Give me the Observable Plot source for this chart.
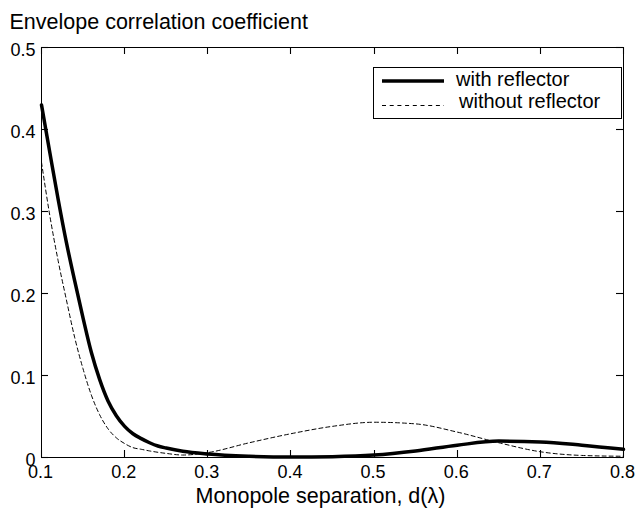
<!DOCTYPE html>
<html>
<head>
<meta charset="utf-8">
<script src="https://cdn.jsdelivr.net/npm/d3@7"></script>
<script src="https://cdn.jsdelivr.net/npm/@observablehq/plot@0.6"></script>
<style>
  html, body { margin: 0; padding: 0; background: #fff; }
  #chart svg { display: block; }
</style>
</head>
<body>
<div id="chart"></div>
<script>
// Monopole separation d (wavelengths) and envelope correlation coefficient
const sepWith = [0.10,0.11,0.12,0.13,0.14,0.15,0.16,0.17,0.18,0.19,0.20,0.21,0.22,0.23,0.24,0.25,0.27,0.30,0.35,0.40,0.45,0.50,0.55,0.60,0.65,0.70,0.75,0.80];
const rhoWith = [0.430,0.372,0.315,0.262,0.215,0.170,0.128,0.095,0.069,0.051,0.038,0.029,0.023,0.018,0.014,0.0115,0.0075,0.0042,0.0015,0.0005,0.001,0.003,0.008,0.015,0.020,0.019,0.015,0.010];
const sepWithout = [0.10,0.11,0.12,0.13,0.14,0.15,0.16,0.17,0.18,0.19,0.20,0.21,0.22,0.23,0.25,0.27,0.30,0.35,0.40,0.45,0.50,0.55,0.60,0.65,0.70,0.75,0.80];
const rhoWithout = [0.360,0.295,0.240,0.192,0.146,0.108,0.076,0.052,0.035,0.024,0.017,0.012,0.010,0.008,0.005,0.003,0.006,0.018,0.029,0.038,0.043,0.041,0.031,0.018,0.007,0.0025,0.0015];

const xTicks = [0.1,0.2,0.3,0.4,0.5,0.6,0.7,0.8];
const yTicks = [0,0.1,0.2,0.3,0.4,0.5];
const seriesNames = ["with reflector", "without reflector"];
const titleText = "Envelope correlation coefficient";
const xLabelText = "Monopole separation, d(\u03bb)";

const withData = sepWith.map((d, i) => ({d, r: rhoWith[i]}));
const withoutData = sepWithout.map((d, i) => ({d, r: rhoWithout[i]}));

const FONT = "'Liberation Sans', Arial, Helvetica, sans-serif";
const xDomain = [0.1, 0.8], yDomain = [0, 0.5];
const W = 636, H = 516, ML = 41, MR = 13, MT = 47, MB = 59;
const TICK = 7; // inward tick length in px

// inward tick marks on all four sides of the frame, placed with the library's scales
function inwardTicks(index, scales, values, dimensions) {
  const {x, y} = scales;
  const L = dimensions.marginLeft, R = dimensions.width - dimensions.marginRight;
  const T = dimensions.marginTop, B = dimensions.height - dimensions.marginBottom;
  const g = d3.create("svg:g");
  const seg = (x1, y1, x2, y2) => g.append("line")
    .attr("x1", x1).attr("y1", y1).attr("x2", x2).attr("y2", y2)
    .attr("stroke", "black").attr("stroke-width", 1.1);
  for (const t of xTicks) {
    const px = Math.round(x(t)) + 0.5;
    seg(px, B, px, B - TICK);
    seg(px, T, px, T + TICK);
  }
  for (const t of yTicks) {
    const py = Math.round(y(t)) + 0.5;
    seg(L, py, L + TICK, py);
    seg(R, py, R - TICK, py);
  }
  return g.node();
}

function legend(index, scales, values, dimensions) {
  const right = dimensions.width - dimensions.marginRight;
  const top = dimensions.marginTop;
  const g = d3.create("svg:g");
  const bx = right - 250, by = top + 20, bw = 248, bh = 51;
  g.append("rect").attr("x", bx + 0.5).attr("y", by + 0.5).attr("width", bw).attr("height", bh)
    .attr("fill", "white").attr("stroke", "black").attr("stroke-width", 1);
  g.append("line").attr("x1", bx + 9).attr("x2", bx + 71).attr("y1", by + 14).attr("y2", by + 14)
    .attr("stroke", "black").attr("stroke-width", 3.5);
  g.append("line").attr("x1", bx + 9).attr("x2", bx + 71).attr("y1", by + 38.5).attr("y2", by + 38.5)
    .attr("stroke", "black").attr("stroke-width", 1).attr("stroke-dasharray", "4,3.7");
  g.append("text").attr("x", bx + 83).attr("y", by + 19).text(seriesNames[0])
    .attr("text-anchor", "start").attr("font-size", 20).attr("font-family", FONT).attr("fill", "black");
  g.append("text").attr("x", bx + 86).attr("y", by + 41).text(seriesNames[1])
    .attr("text-anchor", "start").attr("font-size", 20).attr("font-family", FONT).attr("fill", "black");
  return g.node();
}

const chart = Plot.plot({
  width: W,
  height: H,
  marginLeft: ML,
  marginRight: MR,
  marginTop: MT,
  marginBottom: MB,
  style: {fontFamily: FONT, color: "black", background: "white", overflow: "visible"},
  x: {domain: xDomain},
  y: {domain: yDomain},
  marks: [
    Plot.line(withoutData, {x: "d", y: "r", stroke: "black", strokeWidth: 1, strokeDasharray: "4,3", curve: "monotone-x"}),
    Plot.line(withData, {x: "d", y: "r", stroke: "black", strokeWidth: 3.5, curve: "monotone-x"}),
    Plot.frame({stroke: "black", strokeWidth: 1}),
    inwardTicks,
    Plot.axisX(xTicks, {anchor: "bottom", tickSize: 0, tickPadding: 8, fontSize: 18, dx: -1, label: null, tickFormat: d => String(d)}),
    Plot.axisY(yTicks, {anchor: "left", tickSize: 0, tickPadding: 6, fontSize: 18, dy: 3, label: null, tickFormat: d => String(d)}),
    Plot.text([titleText], {frameAnchor: "top-left", textAnchor: "start", lineAnchor: "bottom", dx: -32, dy: -19, fontSize: 21.5, fill: "black"}),
    Plot.text([xLabelText], {frameAnchor: "bottom", textAnchor: "middle", lineAnchor: "bottom", dx: -12, dy: 45, fontSize: 21.5, fill: "black"}),
    legend
  ]
});
document.getElementById("chart").appendChild(chart);
</script>
</body>
</html>
